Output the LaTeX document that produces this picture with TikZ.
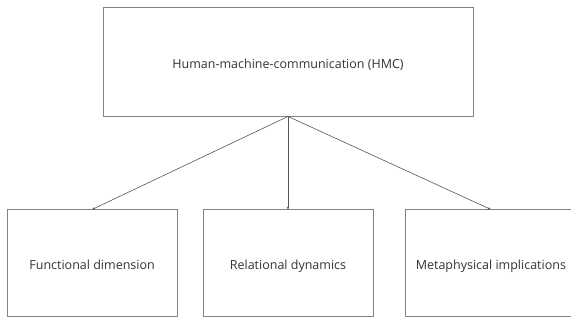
\documentclass[tikz,border=0pt]{standalone}
\usepackage{fontspec}
\setmainfont{Open Sans}
\usepackage{tikz}
\usetikzlibrary{arrows.meta, positioning}
\definecolor{hmcline}{RGB}{85,85,85}
\definecolor{hmcbox}{RGB}{130,130,130}
\definecolor{hmctext}{RGB}{51,51,51}

\begin{document}
\begin{tikzpicture}[
  x=1pt, y=-1pt,
  node distance=93pt and 25pt,
  topbox/.style={rectangle, draw=hmcbox, line width=0.9pt, minimum width=370pt, minimum height=109pt, text height=15pt, text depth=0pt, align=center, font=\fontsize{12.5}{15}\selectfont, text=hmctext},
  subbox/.style={rectangle, draw=hmcbox, line width=0.9pt, minimum width=170pt, minimum height=107pt, text height=11.6pt, text depth=0pt, align=center, font=\fontsize{12.5}{15}\selectfont, text=hmctext},
  arrow/.style={-{Stealth[length=3pt, width=2.5pt]}, draw=hmcline, line width=0.6pt}
]
\useasboundingbox (0,0) rectangle (571,320);
\clip (0,0) rectangle (571,320);

% Top
\node[topbox] (hmc) at (288,61.5) {Human-machine-communication (HMC)};

% Dimensions
\node[subbox, below=93pt of hmc] (rel) {Relational dynamics};
\node[subbox, left=25pt of rel] (func) {Functional dimension};
\node[subbox, right=32pt of rel] (meta) {Metaphysical implications};

% Arrows
\draw[arrow] (hmc.south) -- (func.north);
\draw[arrow] (hmc.south) -- (rel.north);
\draw[arrow] (hmc.south) -- (meta.north);

\end{tikzpicture}
\end{document}
